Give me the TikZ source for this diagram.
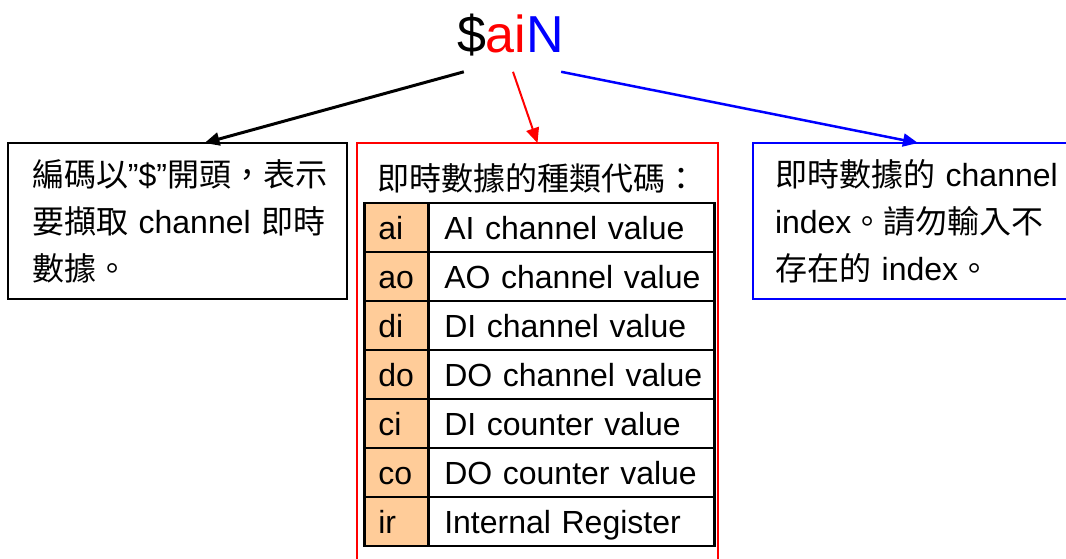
\documentclass[tikz,border=0pt]{standalone}
\usepackage{fontspec}
\setmainfont{Liberation Sans}
\newfontfamily\cjk{Noto Sans CJK TC}
\newcommand{\zh}[1]{{\cjk #1}}
\definecolor{codefill}{RGB}{255,204,153}
\usetikzlibrary{arrows.meta,positioning}

\begin{document}
\begin{tikzpicture}[x=1pt,y=-1pt,
notebox/.style={draw, line width=2pt, anchor=north west, outer sep=0pt, minimum height=156pt, align=left, text height=27pt, font=\fontsize{32}{47}\selectfont},
codecell/.style={draw, line width=2.5pt, fill=codefill, anchor=west, minimum height=49pt, text width=36pt, inner xsep=14pt, align=left, text height=29pt, text depth=6pt, font=\fontsize{32}{38}\selectfont},
desccell/.style={draw, line width=2.5pt, anchor=west, minimum height=49pt, text width=254pt, inner xsep=16pt, align=left, text height=29pt, text depth=6pt, font=\fontsize{32}{38}\selectfont},
link/.style={-{Triangle[length=15pt,width=13pt]}},
]
\useasboundingbox (0,0) rectangle (1066,559);

\node[anchor=base, inner sep=0pt, font=\fontsize{52}{60}\selectfont] (code) at (510.5,53) {\$\textcolor{red}{ai}\textcolor{blue}{N}};

\node[notebox, minimum width=339pt, text width=291pt, inner xsep=24pt] (startbox) at (8,143) {\mbox{\zh{編碼以}"\$"\zh{開頭，表示}}\\\mbox{\zh{要擷取} channel \zh{即時}}\\\mbox{\zh{數據。}}};
\node[draw=red, line width=2pt, anchor=north west, outer sep=0pt, minimum width=361pt, minimum height=440pt] (typebox) at (357,143) {};
\node[font=\fontsize{32}{38}\selectfont] (typehead) at (537,178) {\zh{即時數據的種類代碼：}};
\node[notebox, draw=blue, line width=2.5pt, minimum width=340pt, text width=296pt, inner xsep=22pt] (idxbox) at (753,143) {\mbox{\zh{即時數據的} channel}\\\mbox{index\zh{。請勿輸入不}}\\\mbox{\zh{存在的} index\zh{。}}};

\foreach \kind/\desc [count=\i] in {ai/AI channel value, ao/AO channel value, di/DI channel value, do/DO channel value, ci/DI counter value, co/DO counter value, ir/Internal Register}{
  \node[codecell] (c\i) at (363,178.5+49*\i) {\kind};
  \node[desccell] (d\i) at (427,178.5+49*\i) {\mbox{\desc}};
}

\draw[link, line width=3pt] ([xshift=7pt,yshift=-15pt]code.south west) -- ([xshift=27pt]startbox.north);
\draw[link, red, line width=2pt] ([xshift=2.5pt,yshift=-15pt]code.south) -- (typebox.north);
\draw[link, blue, line width=2.5pt] ([xshift=-3pt,yshift=-15pt]code.south east) -- ([xshift=165pt]idxbox.north west);

\end{tikzpicture}
\end{document}
